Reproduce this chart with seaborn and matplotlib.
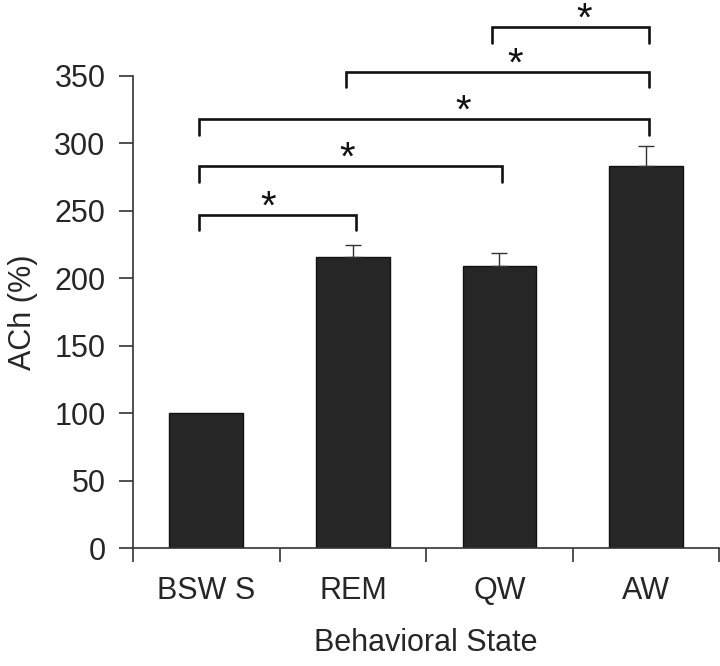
import numpy as np
import pandas as pd
import matplotlib
matplotlib.use("Agg")
import matplotlib.pyplot as plt
import seaborn as sns

# Dados do gráfico
states = ["BSWS", "REM", "QW", "AW"]
ach_pct = [100, 216, 209, 283]
ach_err = [0, 9, 10, 15]

# Comparações significativas (índice a, índice b, altura do colchete)
pair_a = [0, 0, 0, 1, 2]
pair_b = [1, 2, 3, 3, 3]
pair_y = [247, 283, 318, 353, 386]
pair_lbl = ["*", "*", "*", "*", "*"]
# posição do asterisco em unidades de categoria (não fica no meio em todos)
star_x = [0.42, 0.96, 1.75, 2.11, 2.58]

yticks = [0, 50, 100, 150, 200, 250, 300, 350]

sns.set_theme(style="white")
plt.rcParams['font.family'] = ['Liberation Sans', 'DejaVu Sans']

df = pd.DataFrame({"state": states, "ach": ach_pct})

fig = plt.figure(figsize=(7.2, 6.66), dpi=100)
ax = fig.add_axes([0.185, 0.177, 0.814, 0.709])

sns.barplot(data=df, x="state", y="ach", color="#262626", edgecolor="#111111",
            linewidth=1.0, width=0.505, saturation=1, ax=ax)

# Barras de erro (apenas para cima)
xs = np.arange(len(states))
err = np.array(ach_err, dtype=float)
mask = err > 0
ax.errorbar(xs[mask], np.array(ach_pct)[mask], yerr=[np.zeros(mask.sum()), err[mask]],
            fmt="none", ecolor="#333333", elinewidth=1.0, capsize=5.5, capthick=1.0)

# Colchetes de significância
drop = 11.5
for a, b, h, lbl, sx in zip(pair_a, pair_b, pair_y, pair_lbl, star_x):
    ax.plot([a - 0.05, a - 0.05, b + 0.02, b + 0.02], [h - drop, h, h, h - drop],
            color="#111111", lw=1.9, clip_on=False, solid_joinstyle="miter")
    ax.text(sx, h - 2.6, lbl, ha="center", va="baseline",
            fontsize=29, color="#111111", clip_on=False)

ax.set_xlim(-0.5, len(states) - 0.5)
ax.set_ylim(0, 350)
ax.set_yticks(yticks)
ax.set_yticklabels([str(t) for t in yticks], fontsize=22)

# Marcas nos limites das categorias, rótulos no centro
ax.set_xticks(np.arange(len(states) + 1) - 0.5)
ax.set_xticklabels([])
ax.set_xticks(xs, minor=True)
ax.set_xticklabels(["BSW S", "REM", "QW", "AW"], minor=True, fontsize=22)
ax.tick_params(axis="x", which="major", direction="out", length=10, width=1.2,
               color="#333333", bottom=True)
ax.tick_params(axis="x", which="minor", length=0, pad=20, bottom=True)
ax.tick_params(axis="y", direction="out", length=10, width=1.2, color="#333333",
               left=True, pad=10)

ax.set_xlabel("Behavioral State", fontsize=22, labelpad=16)
ax.set_ylabel("ACh (%)", fontsize=22, labelpad=12)

sns.despine(ax=ax, top=True, right=True)
for s in ["left", "bottom"]:
    ax.spines[s].set_color("#333333")
    ax.spines[s].set_linewidth(1.2)

fig.savefig("out.png", dpi=100)
plt.close(fig)
